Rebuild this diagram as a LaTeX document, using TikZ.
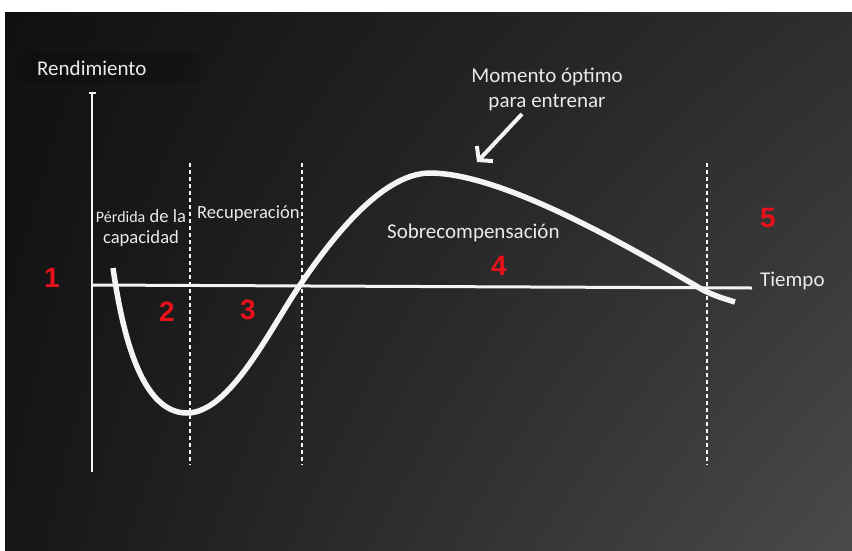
\documentclass[tikz,border=0pt]{standalone}
\usepackage{fontspec}
\setmainfont{Carlito}
\newfontfamily\numfont{Liberation Sans}
\usetikzlibrary{arrows.meta,shadings}
\definecolor{ink}{HTML}{EAEAEA}
\definecolor{lineW}{HTML}{F4F4F4}
\definecolor{numred}{HTML}{E8101A}
\definecolor{bgUL}{HTML}{101010}
\definecolor{bgUR}{HTML}{2E2E2E}
\definecolor{bgLL}{HTML}{161616}
\definecolor{bgLR}{HTML}{4A4A4A}
\definecolor{boxdark}{HTML}{0B0B0B}
\tikzset{
  lbl/.style={text=ink, inner sep=0pt, font=\fontsize{21}{25}\selectfont},
  smalllbl/.style={text=ink, inner sep=0pt, font=\fontsize{18.6}{22}\selectfont},
  num/.style={text=numred, inner sep=0pt, font=\numfont\bfseries\fontsize{28}{30}\selectfont},
  axis/.style={draw=lineW, line width=2pt},
  xaxis/.style={draw=lineW, line width=3pt},
  phase/.style={draw=lineW, line width=2.2pt, dash pattern=on 4pt off 3pt},
  curve/.style={draw=lineW, line width=5.5pt},
  pointer/.style={draw=lineW, line width=4pt, -{Straight Barb[length=9pt,width=22pt]}}
}
\begin{document}
\begin{tikzpicture}[x=1pt,y=-1pt]
\useasboundingbox (0,0) rectangle (852,550);
\fill[white] (0,0) rectangle (852,550);
\shade[upper left=bgUL, upper right=bgUR, lower left=bgLL, lower right=bgLR] (5,12) rectangle (852,550);
\fill[boxdark, opacity=0.3] (23,53) rectangle (200,83);

% axes
\coordinate (ytop) at (92,93);
\coordinate (ybot) at (92,472);
\coordinate (capL) at (88.5,93);
\coordinate (capR) at (95.5,93);
\coordinate (xl) at (92,285);
\coordinate (xr) at (752,288);
\draw[axis] (ytop) -- (ybot);
\draw[axis] (capL) -- (capR);
\draw[xaxis] (xl) -- (xr);

% phase separators
\coordinate (d1t) at (190,163); \coordinate (d1b) at (190,465);
\coordinate (d2t) at (302,163); \coordinate (d2b) at (302,465);
\coordinate (d3t) at (707,163); \coordinate (d3b) at (707,465);
\draw[phase] (d1t) -- (d1b);
\draw[phase] (d2t) -- (d2b);
\draw[phase] (d3t) -- (d3b);

% curve
\coordinate (c0) at (113,268);
\coordinate (cmin) at (187,413);
\coordinate (cx1) at (300,285);
\coordinate (cpk) at (431,173);
\coordinate (cx2) at (703,290);
\coordinate (cend) at (735,302);
\draw[curve] (c0) .. controls (122,330) and (140,413) .. (cmin)
  .. controls (230,413) and (270,329) .. (cx1)
  .. controls (322,253) and (378,172) .. (cpk)
  .. controls (500,174) and (615,238) .. (cx2)
  .. controls (715,296) and (725,299) .. (cend);

% pointer arrow
\coordinate (arS) at (522,114);
\coordinate (arE) at (477,162);
\draw[pointer] (arS) -- (arE);

% labels
\node[lbl, anchor=base west] (yl) at (37,75) {Rendimiento};
\node[lbl, anchor=base west] (xlab) at (760,286) {Tiempo};
\node[lbl, anchor=base] (mom1) at (547,82) {Momento óptimo};
\node[lbl, anchor=base] (mom2) at (547,107) {para entrenar};
\node[lbl, anchor=base west] (sob) at (387,238) {Sobrecompensación};
\node[smalllbl, anchor=base west] (rec) at (197,218) {Recuperación};
\node[smalllbl, anchor=base] (per1) at (141,222) {{\fontsize{16}{19}\selectfont Pérdida} de la};
\node[smalllbl, anchor=base] (per2) at (141,243) {capacidad};

% phase numbers
\node[num] (n1) at (52,278) {1};
\node[num] (n2) at (167,312) {2};
\node[num] (n3) at (248,310) {3};
\node[num] (n4) at (499,266) {4};
\node[num] (n5) at (768,218) {5};
\end{tikzpicture}
\end{document}
